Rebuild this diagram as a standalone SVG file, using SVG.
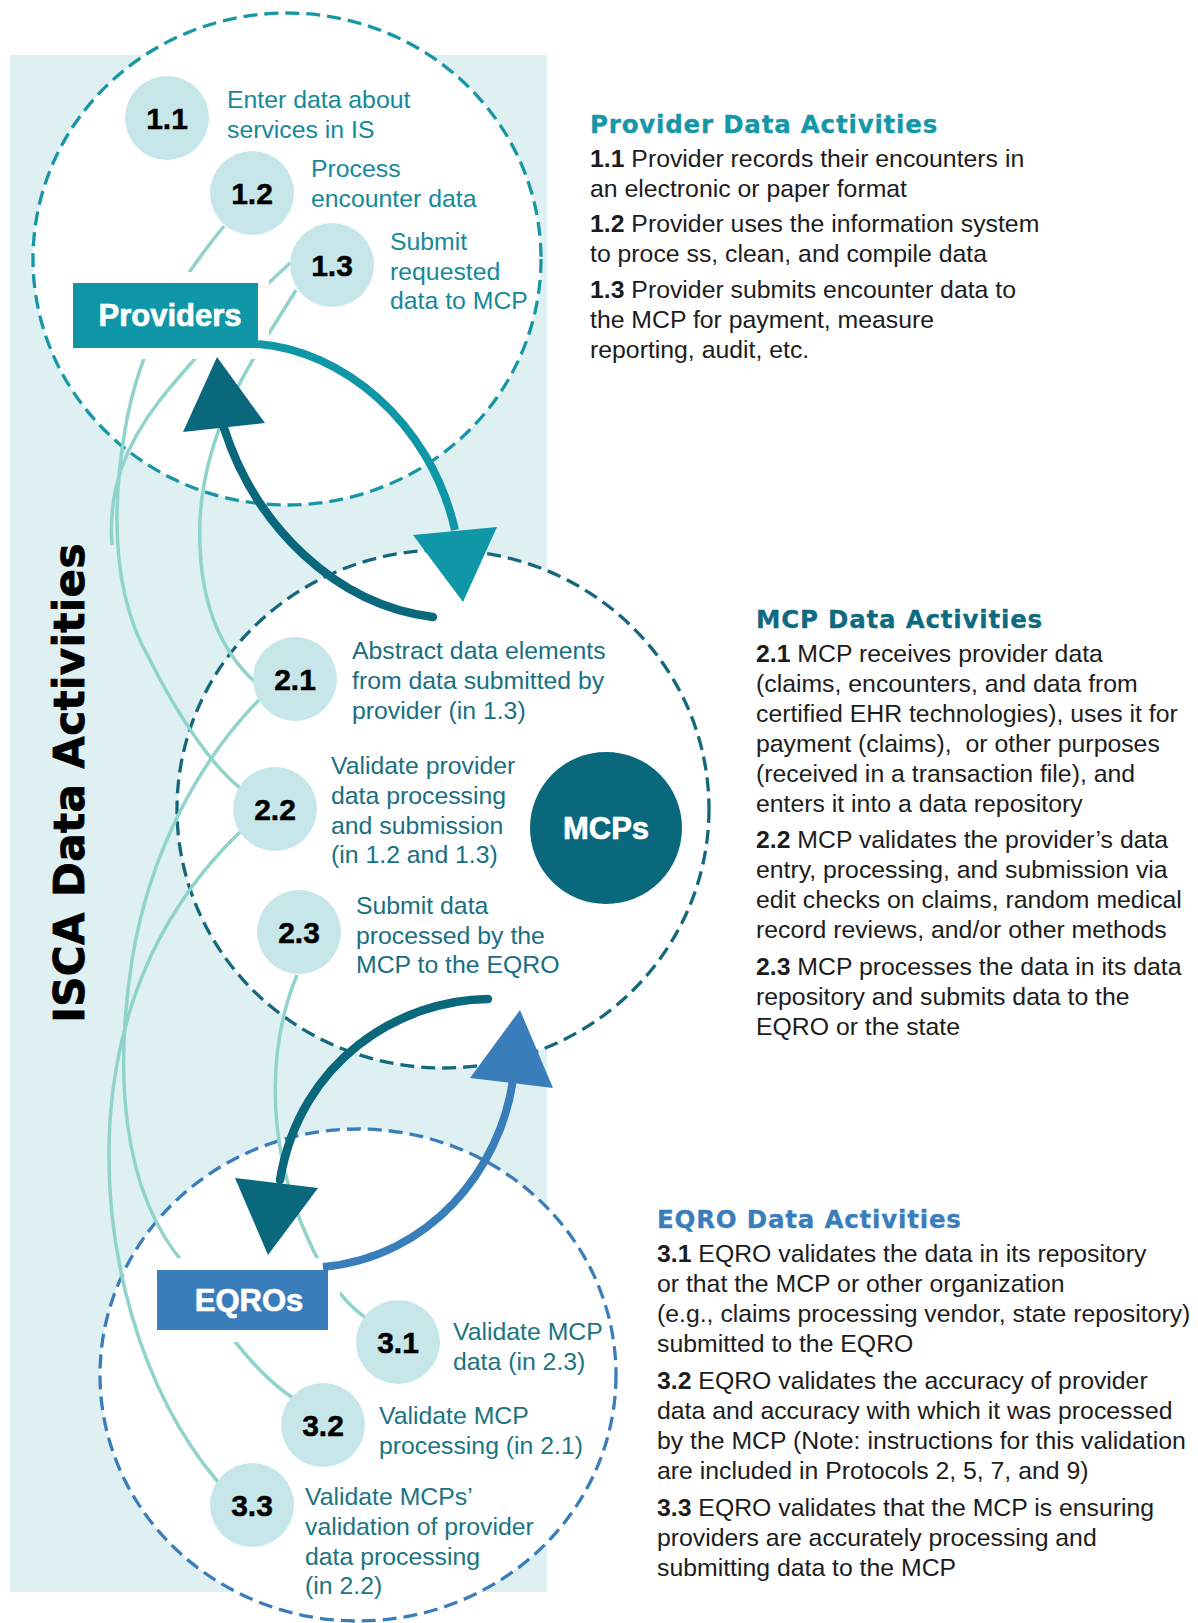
<svg xmlns="http://www.w3.org/2000/svg" width="1198" height="1623" viewBox="0 0 1198 1623">
  <style>
    .bg { fill: #dff0f3; }
    .ring { fill: #ffffff; stroke-width: 3.3; stroke-dasharray: 14 7; }
    .conn { fill: none; stroke: #8fd3cb; stroke-width: 3.5; }
    .step { fill: #c6e6ea; }
    .num { font-family: "Liberation Sans", Arial, sans-serif; font-weight: bold; font-size: 30px; fill: #000; stroke: #000; stroke-width: 0.5; text-anchor: middle; }
    .lbl { font-family: "Liberation Sans", Arial, sans-serif; font-size: 24.8px; }
    .boxlbl { font-family: "Liberation Sans", Arial, sans-serif; font-weight: bold; font-size: 31px; fill: #fff; stroke: #fff; stroke-width: 0.7; text-anchor: middle; }
    .head { font-family: "DejaVu Sans", Verdana, sans-serif; font-weight: bold; font-size: 24.5px; letter-spacing: 0.8px; stroke-width: 0.3; }
    .body { font-family: "Liberation Sans", Arial, sans-serif; font-size: 24.8px; fill: #1c1c1c; }
    .b { font-weight: bold; }
    .halo { fill: #ffffff; }
  </style>

  <rect class="bg" x="10" y="55" width="537" height="1537"/>

  <g id="rings">
    <ellipse id="ring-providers" class="ring" cx="287" cy="259" rx="254" ry="246" stroke="#1796a6"/>
    <ellipse id="ring-mcps" class="ring" cx="443" cy="809" rx="266" ry="259" stroke="#15677b"/>
    <ellipse id="ring-eqros" class="ring" cx="358" cy="1375" rx="258" ry="246" stroke="#3b7dbb"/>
  </g>

  <text id="side-title" transform="translate(84,783) rotate(-90)" font-family="DejaVu Sans, Verdana, sans-serif" font-weight="bold" font-size="42" letter-spacing="0.4" text-anchor="middle" fill="#000" stroke="#000" stroke-width="0.8">ISCA Data Activities</text>

  <g id="connectors">
    <path class="conn" d="M224,226 C180,280 140,340 125,430 C110,520 115,600 150,660 C180,720 215,770 243,790"/>
    <path class="conn" d="M290,263 C250,300 200,350 160,400 C125,445 108,490 112,545"/>
    <path class="conn" d="M296,290 C260,350 205,420 200,520 C197,600 220,650 255,682"/>
    <path class="conn" d="M259,700 C200,760 150,850 132,960 C115,1070 120,1190 185,1265 C210,1310 250,1370 293,1398"/>
    <path class="conn" d="M240,832 C180,890 120,980 110,1120 C102,1250 140,1390 218,1482"/>
    <path class="conn" d="M297,975 C270,1040 265,1130 300,1220 C320,1270 340,1300 366,1318"/>
  </g>

  <g id="step-1-1"><circle class="step" cx="167" cy="118" r="42"/><text class="num" x="167" y="129">1.1</text>
    <text class="lbl" fill="#14899a"><tspan x="227" y="108">Enter data about</tspan><tspan x="227" y="138">services in IS</tspan></text></g>
  <g id="step-1-2"><circle class="step" cx="252" cy="193" r="42"/><text class="num" x="252" y="204">1.2</text>
    <text class="lbl" fill="#14899a"><tspan x="311" y="177">Process</tspan><tspan x="311" y="207">encounter data</tspan></text></g>
  <g id="step-1-3"><circle class="step" cx="332" cy="265" r="42"/><text class="num" x="332" y="276">1.3</text>
    <text class="lbl" fill="#14899a"><tspan x="390" y="250">Submit</tspan><tspan x="390" y="280">requested</tspan><tspan x="390" y="309">data to MCP</tspan></text></g>

  <g id="step-2-1"><circle class="step" cx="295" cy="679" r="42"/><text class="num" x="295" y="690">2.1</text>
    <text class="lbl" fill="#186f82"><tspan x="352" y="659">Abstract data elements</tspan><tspan x="352" y="689">from data submitted by</tspan><tspan x="352" y="719">provider (in 1.3)</tspan></text></g>
  <g id="step-2-2"><circle class="step" cx="275" cy="809" r="42"/><text class="num" x="275" y="820">2.2</text>
    <text class="lbl" fill="#186f82"><tspan x="331" y="774">Validate provider</tspan><tspan x="331" y="804">data processing</tspan><tspan x="331" y="834">and submission</tspan><tspan x="331" y="863">(in 1.2 and 1.3)</tspan></text></g>
  <g id="step-2-3"><circle class="step" cx="299" cy="932" r="42"/><text class="num" x="299" y="943">2.3</text>
    <text class="lbl" fill="#186f82"><tspan x="356" y="914">Submit data</tspan><tspan x="356" y="944">processed by the</tspan><tspan x="356" y="973">MCP to the EQRO</tspan></text></g>

  <g id="step-3-1"><circle class="step" cx="398" cy="1342" r="42"/><text class="num" x="398" y="1353">3.1</text>
    <text class="lbl" fill="#1b7483"><tspan x="453" y="1340">Validate MCP</tspan><tspan x="453" y="1370">data (in 2.3)</tspan></text></g>
  <g id="step-3-2"><circle class="step" cx="323" cy="1425" r="42"/><text class="num" x="323" y="1436">3.2</text>
    <text class="lbl" fill="#1b7483"><tspan x="379" y="1424">Validate MCP</tspan><tspan x="379" y="1454">processing (in 2.1)</tspan></text></g>
  <g id="step-3-3"><circle class="step" cx="252" cy="1505" r="42"/><text class="num" x="252" y="1516">3.3</text>
    <text class="lbl" fill="#1b7483"><tspan x="305" y="1505">Validate MCPs’</tspan><tspan x="305" y="1535">validation of provider</tspan><tspan x="305" y="1565">data processing</tspan><tspan x="305" y="1594">(in 2.2)</tspan></text></g>

  <g id="providers">
    <rect class="halo" x="62" y="272" width="207" height="87"/>
    <rect x="73" y="283" width="185" height="65" fill="#0f97a7"/>
    <text class="boxlbl" x="170" y="326">Providers</text>
  </g>
  <g id="eqros">
    <rect class="halo" x="145" y="1258" width="195" height="84"/>
    <rect x="157" y="1270" width="171" height="60" fill="#3a7dbb"/>
    <text class="boxlbl" x="249" y="1311">EQROs</text>
  </g>

  <g id="arrows">
    <path d="M258,344 C340,350 430,420 455,530" fill="none" stroke="#0f97a7" stroke-width="8"/>
    <polygon points="413,535 497,527 463,602" fill="#0f97a7"/>
    <path d="M433,617 C335,605 255,525 224,428" fill="none" stroke="#0a687d" stroke-width="8.5" stroke-linecap="round"/>
    <polygon points="183,432 265,423 217,357" fill="#0a687d"/>
    <path d="M488,999 C400,1000 300,1060 280,1180" fill="none" stroke="#0a687d" stroke-width="8.5" stroke-linecap="round"/>
    <polygon points="235,1178 318,1188 268,1255" fill="#0a687d"/>
    <path d="M323,1267 C430,1257 500,1170 513,1080" fill="none" stroke="#3a7dbb" stroke-width="8"/>
    <polygon points="470,1078 553,1088 520,1010" fill="#3a7dbb"/>
  </g>

  <g id="mcps">
    <circle cx="606" cy="828" r="76" fill="#0a687d"/>
    <text class="boxlbl" x="606" y="839">MCPs</text>
  </g>

  <g id="provider-notes">
    <text class="head" x="590" y="133" fill="#1597a7" stroke="#1597a7">Provider Data Activities</text>
    <text class="body">
      <tspan x="590" y="167"><tspan class="b">1.1</tspan> Provider records their encounters in</tspan>
      <tspan x="590" y="197">an electronic or paper format</tspan>
      <tspan x="590" y="232"><tspan class="b">1.2</tspan> Provider uses the information system</tspan>
      <tspan x="590" y="262">to proce ss, clean, and compile data</tspan>
      <tspan x="590" y="298"><tspan class="b">1.3</tspan> Provider submits encounter data to</tspan>
      <tspan x="590" y="328">the MCP for payment, measure</tspan>
      <tspan x="590" y="358">reporting, audit, etc.</tspan>
    </text>
  </g>

  <g id="mcp-notes">
    <text class="head" x="756" y="628" fill="#0d6a80" stroke="#0d6a80">MCP Data Activities</text>
    <text class="body" style="white-space:pre">
      <tspan x="756" y="662"><tspan class="b">2.1</tspan> MCP receives provider data</tspan>
      <tspan x="756" y="692">(claims, encounters, and data from</tspan>
      <tspan x="756" y="722">certified EHR technologies), uses it for</tspan>
      <tspan x="756" y="752">payment (claims),  or other purposes</tspan>
      <tspan x="756" y="782">(received in a transaction file), and</tspan>
      <tspan x="756" y="812">enters it into a data repository</tspan>
      <tspan x="756" y="848"><tspan class="b">2.2</tspan> MCP validates the provider’s data</tspan>
      <tspan x="756" y="878">entry, processing, and submission via</tspan>
      <tspan x="756" y="908">edit checks on claims, random medical</tspan>
      <tspan x="756" y="938">record reviews, and/or other methods</tspan>
      <tspan x="756" y="975"><tspan class="b">2.3</tspan> MCP processes the data in its data</tspan>
      <tspan x="756" y="1005">repository and submits data to the</tspan>
      <tspan x="756" y="1035">EQRO or the state</tspan>
    </text>
  </g>

  <g id="eqro-notes">
    <text class="head" x="657" y="1228" fill="#3a7dbb" stroke="#3a7dbb">EQRO Data Activities</text>
    <text class="body">
      <tspan x="657" y="1262"><tspan class="b">3.1</tspan> EQRO validates the data in its repository</tspan>
      <tspan x="657" y="1292">or that the MCP or other organization</tspan>
      <tspan x="657" y="1322">(e.g., claims processing vendor, state repository)</tspan>
      <tspan x="657" y="1352">submitted to the EQRO</tspan>
      <tspan x="657" y="1389"><tspan class="b">3.2</tspan> EQRO validates the accuracy of provider</tspan>
      <tspan x="657" y="1419">data and accuracy with which it was processed</tspan>
      <tspan x="657" y="1449">by the MCP (Note: instructions for this validation</tspan>
      <tspan x="657" y="1479">are included in Protocols 2, 5, 7, and 9)</tspan>
      <tspan x="657" y="1516"><tspan class="b">3.3</tspan> EQRO validates that the MCP is ensuring</tspan>
      <tspan x="657" y="1546">providers are accurately processing and</tspan>
      <tspan x="657" y="1576">submitting data to the MCP</tspan>
    </text>
  </g>
</svg>
